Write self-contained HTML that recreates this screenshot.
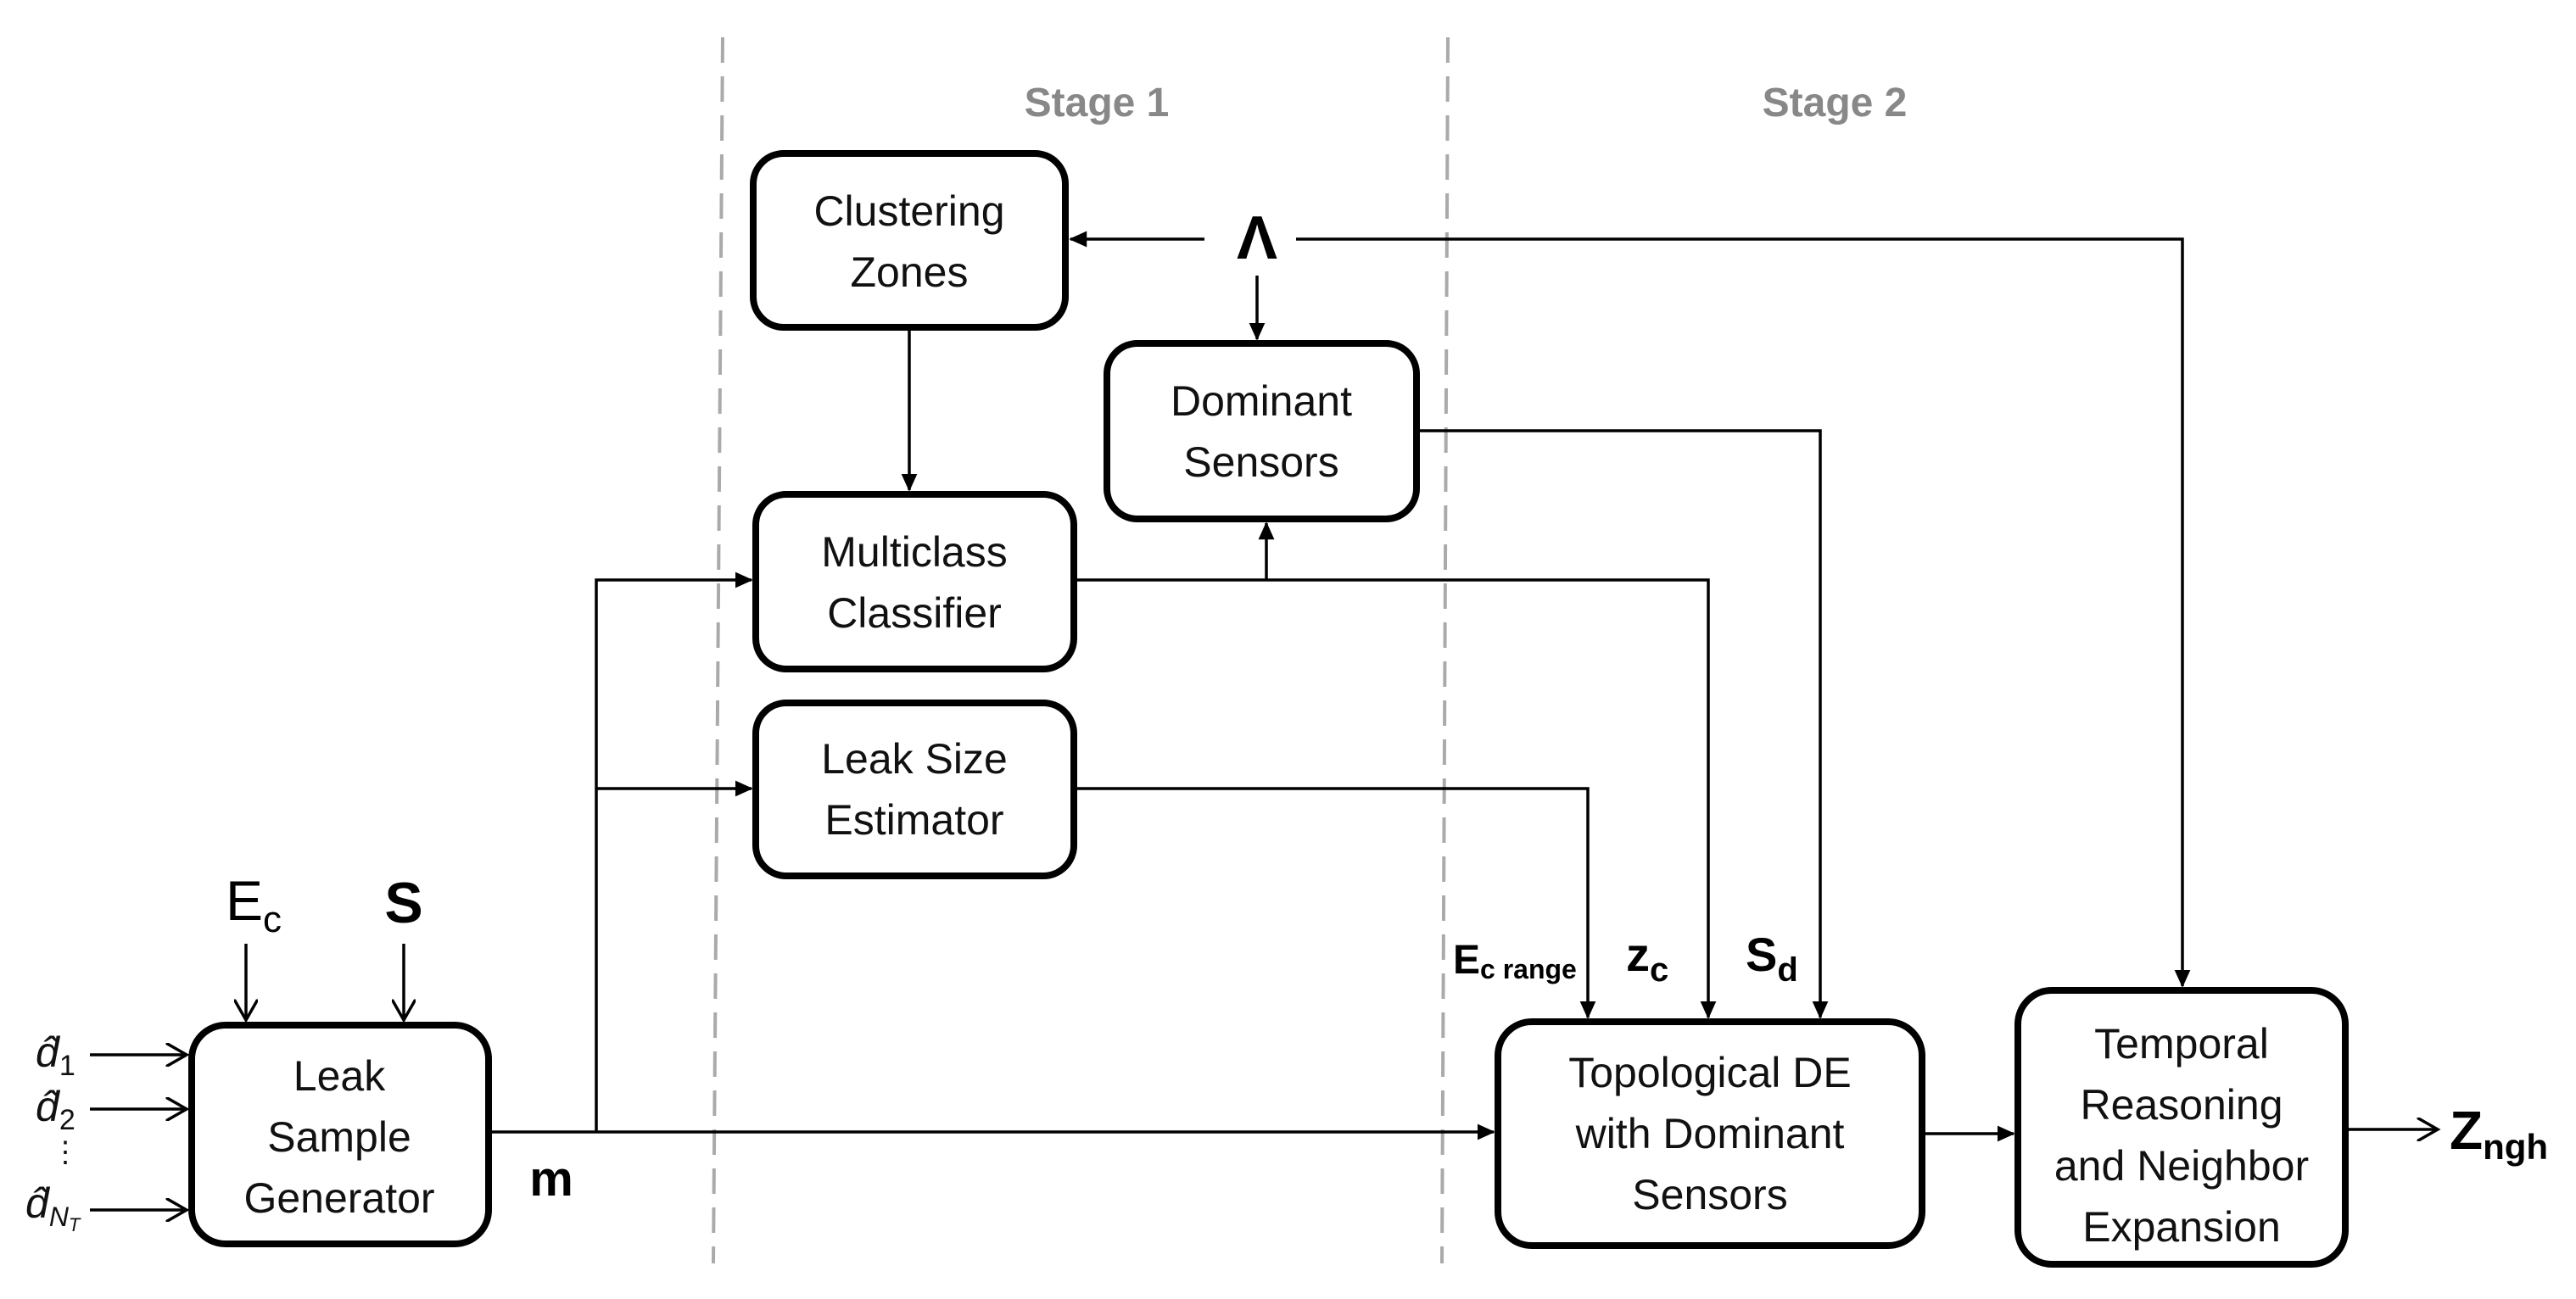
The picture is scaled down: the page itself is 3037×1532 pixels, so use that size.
<!DOCTYPE html>
<html><head><meta charset="utf-8"><style>
html,body{margin:0;padding:0;background:#fff}
svg{display:block}
text{font-family:"Liberation Sans",sans-serif}
.b{font-size:50px;fill:#111;text-anchor:middle}
</style></head><body>
<svg width="3037" height="1532" viewBox="0 0 3037 1532" xmlns="http://www.w3.org/2000/svg">
<defs>
<marker id="f" markerWidth="6" markerHeight="6" refX="5.5" refY="3" orient="auto" markerUnits="strokeWidth"><path d="M0,0.3 L6,3 L0,5.7 z" fill="#000"/></marker>
<marker id="o" markerWidth="8" markerHeight="8" refX="7" refY="4" orient="auto" markerUnits="strokeWidth"><path d="M0,0 L7,4 L0,8" fill="none" stroke="#000" stroke-width="1"/></marker>
</defs>
<line x1="852" y1="44" x2="841" y2="1490" stroke="#aaa" stroke-width="4" stroke-dasharray="30,16"/>
<line x1="1707" y1="44" x2="1700" y2="1490" stroke="#aaa" stroke-width="4" stroke-dasharray="30,16"/>
<text x="1293" y="137" font-size="48" font-weight="bold" fill="#888" text-anchor="middle">Stage 1</text>
<text x="2163" y="137" font-size="48" font-weight="bold" fill="#888" text-anchor="middle">Stage 2</text>

<g fill="#fff" stroke="#000" stroke-width="8">
<rect x="888" y="181" width="368" height="205" rx="36"/>
<rect x="891" y="583" width="375" height="206" rx="36"/>
<rect x="891" y="829" width="375" height="204" rx="36"/>
<rect x="1305" y="405" width="365" height="207" rx="36"/>
<rect x="226" y="1209" width="350" height="258" rx="40"/>
<rect x="1766" y="1205" width="500" height="264" rx="40"/>
<rect x="2379" y="1168" width="386" height="323" rx="40"/>
</g>
<g>
<text class="b" x="1072" y="266">Clustering</text><text class="b" x="1072" y="338">Zones</text>
<text class="b" x="1078" y="668">Multiclass</text><text class="b" x="1078" y="740">Classifier</text>
<text class="b" x="1078" y="912">Leak Size</text><text class="b" x="1078" y="984">Estimator</text>
<text class="b" x="1487" y="490">Dominant</text><text class="b" x="1487" y="562">Sensors</text>
<text class="b" x="400" y="1286">Leak</text><text class="b" x="400" y="1358">Sample</text><text class="b" x="400" y="1430">Generator</text>
<text class="b" x="2016" y="1282">Topological DE</text><text class="b" x="2016" y="1354">with Dominant</text><text class="b" x="2016" y="1426">Sensors</text>
<text class="b" x="2572" y="1248">Temporal</text><text class="b" x="2572" y="1320">Reasoning</text><text class="b" x="2572" y="1392">and Neighbor</text><text class="b" x="2572" y="1464">Expansion</text>
</g>

<g stroke="#000" stroke-width="3.5" fill="none">
<path d="M1420,282 H1262" marker-end="url(#f)"/>
<path d="M1482,325 V400" marker-end="url(#f)"/>
<path d="M1528,282 H2573 V1163" marker-end="url(#f)"/>
<path d="M1072,388 V578" marker-end="url(#f)"/>
<path d="M1270,684 H2014 V1200" marker-end="url(#f)"/>
<path d="M1493,684 V617" marker-end="url(#f)"/>
<path d="M1674,508 H2146 V1200" marker-end="url(#f)"/>
<path d="M1270,930 H1872 V1200" marker-end="url(#f)"/>
<path d="M580,1335 H1761" marker-end="url(#f)"/>
<path d="M703,1335 V684 H886" marker-end="url(#f)"/>
<path d="M703,930 H886" marker-end="url(#f)"/>
<path d="M2270,1337 H2374" marker-end="url(#f)"/>
<path d="M2769,1332 H2874" marker-end="url(#o)"/>
<path d="M290,1113 V1203" marker-end="url(#o)"/>
<path d="M476,1113 V1203" marker-end="url(#o)"/>
<path d="M106,1244 H220" marker-end="url(#o)"/>
<path d="M106,1308 H220" marker-end="url(#o)"/>
<path d="M106,1427 H220" marker-end="url(#o)"/>
</g>

<text x="1482" y="305" font-size="72" font-weight="bold" text-anchor="middle">Λ</text>
<text x="650" y="1410" font-size="58" font-weight="bold" text-anchor="middle">m</text>
<text x="266" y="1085" font-size="66">E<tspan font-size="44" dy="14">c</tspan></text>
<text x="476" y="1088" font-size="68" font-weight="bold" text-anchor="middle">S</text>
<text x="1713" y="1148" font-size="48" font-weight="bold">E<tspan font-size="32" dy="6">c range</tspan></text>
<text x="1917" y="1145" font-size="56" font-weight="bold">z<tspan font-size="40" dy="12">c</tspan></text>
<text x="2058" y="1145" font-size="56" font-weight="bold">S<tspan font-size="40" dy="12">d</tspan></text>
<text x="2888" y="1355" font-size="64" font-weight="bold">Z<tspan font-size="42" dy="12">ngh</tspan></text>
<g font-family="Liberation Serif" font-style="italic" font-size="50" fill="#111">
<text x="42" y="1258">d̂<tspan font-style="normal" font-size="34" dy="10">1</tspan></text>
<text x="42" y="1322">d̂<tspan font-style="normal" font-size="34" dy="10">2</tspan></text>
<text x="60" y="1370" font-style="normal" font-size="34">⋮</text>
<text x="30" y="1436">d̂<tspan font-size="32" dy="10">N<tspan font-size="22" dy="6">T</tspan></tspan></text>
</g>
</svg>
</body></html>
